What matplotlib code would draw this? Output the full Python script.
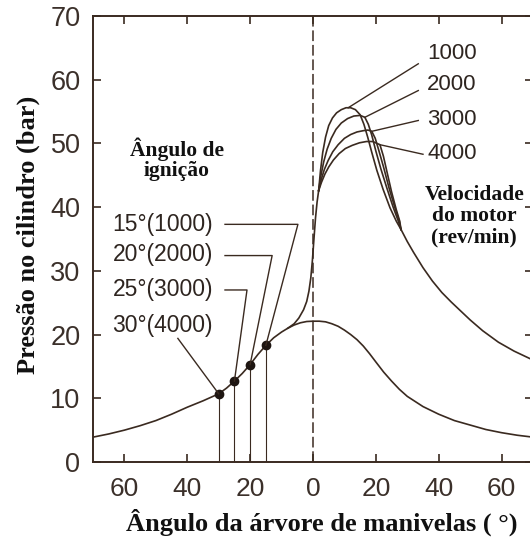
import matplotlib
matplotlib.use("Agg")
import matplotlib.pyplot as plt

# curva sem combustao (arrasto)
ang_mot = [-70, -65, -60, -55, -50, -45, -40, -35, -30, -27.5, -25, -22.5, -20, -17.5, -15,
           -12.5, -10, -8, -6, -4, -2, 0, 2, 4, 6, 8, 10, 12, 14, 16, 18, 20, 22.5, 25,
           27.5, 30, 35, 40, 45, 50, 55, 60, 65, 70]
p_mot = [3.9, 4.4, 5.0, 5.7, 6.5, 7.5, 8.6, 9.6, 10.7, 11.6, 12.7, 13.9, 15.3, 16.9, 18.3,
         19.5, 20.4, 21.0, 21.5, 21.85, 22.05, 22.1, 22.1, 22.0, 21.7, 21.3, 20.7, 20.0, 19.2,
         18.2, 17.0, 15.7, 14.1, 12.7, 11.4, 10.3, 8.7, 7.5, 6.5, 5.8, 5.1, 4.6, 4.2, 3.9]

# subida comum das curvas com combustao
ang_sub = [-8, -6, -4.5, -3, -2, -1.3, -0.7, -0.2, 0.3, 0.8, 1.3, 1.8]
p_sub = [21.0, 21.7, 22.6, 23.9, 25.2, 26.8, 28.9, 31.6, 35.0, 38.3, 40.8, 42.6]

# parte superior de cada rotacao
ang_1000 = [1.8, 2.4, 3.1, 4.0, 5.0, 6.2, 7.5, 9.0, 10.5, 12.0, 13.5, 15.0, 16.2, 17.4,
            18.7, 20.3, 22.3, 24.5, 26.5]
p_1000 = [42.6, 45.8, 48.6, 51.0, 52.8, 54.0, 54.8, 55.3, 55.6, 55.6, 55.3, 54.5, 53.0,
          51.0, 48.6, 45.8, 42.8, 39.9, 37.8]
ang_2000 = [1.8, 2.5, 3.4, 4.5, 5.8, 7.3, 9.0, 11.0, 13.0, 15.0, 16.5, 17.6, 18.7, 20.0,
            21.6, 23.5, 25.5, 27.0]
p_2000 = [42.6, 44.9, 47.1, 49.1, 50.8, 52.2, 53.2, 53.9, 54.3, 54.4, 54.1, 53.0, 51.3,
          48.8, 46.0, 43.0, 40.0, 38.0]
ang_3000 = [1.8, 2.6, 3.6, 4.8, 6.3, 8.0, 10.0, 12.0, 14.0, 16.0, 17.5, 18.7, 19.8, 21.0,
            22.5, 24.2, 26.0, 27.4]
p_3000 = [42.6, 44.3, 45.9, 47.3, 48.7, 49.8, 50.8, 51.4, 51.8, 52.0, 52.1, 51.9, 50.8,
          48.8, 46.2, 43.0, 40.0, 37.9]
ang_4000 = [1.8, 2.7, 3.8, 5.0, 6.5, 8.3, 10.3, 12.5, 14.8, 17.0, 19.0, 21.3, 22.4, 23.6,
            25.0, 26.5, 27.6]
p_4000 = [42.6, 43.9, 45.2, 46.3, 47.4, 48.4, 49.2, 49.7, 50.1, 50.3, 50.3, 49.8, 48.0,
          45.4, 42.4, 39.6, 37.8]

# descida comum (expansao)
ang_exp = [28, 30, 32, 35, 38, 41, 44, 47, 50, 54, 59, 64, 70]
p_exp = [36.5, 34.6, 32.9, 30.5, 28.4, 26.6, 25.1, 23.7, 22.3, 20.6, 18.8, 17.4, 16.0]

# pontos de ignicao
ang_ign = [-30, -25, -20, -15]
p_ign = [10.7, 12.7, 15.3, 18.3]
rotulos_ign = ["30°(4000)", "25°(3000)", "20°(2000)", "15°(1000)"]

rotacoes = ["1000", "2000", "3000", "4000"]
x_ticks = [-60, -40, -20, 0, 20, 40, 60]
x_labels = ["60", "40", "20", "0", "20", "40", "60"]
y_ticks = [0, 10, 20, 30, 40, 50, 60, 70]

cor = "#3a2a20"
cor_txt = "#2e2520"

fig = plt.figure(figsize=(5.30, 5.41), dpi=100)
ax = fig.add_axes([93 / 530, 79 / 541, 440 / 530, 446 / 541])

lw = 1.2
ax.plot(ang_mot, p_mot, color=cor, lw=lw)
ax.plot(ang_sub, p_sub, color=cor, lw=lw)
for a, p in [(ang_1000, p_1000), (ang_2000, p_2000), (ang_3000, p_3000), (ang_4000, p_4000)]:
    ax.plot(a + [ang_exp[0]], p + [p_exp[0]], color=cor, lw=lw)
ax.plot(ang_exp, p_exp, color=cor, lw=lw)

# PMS
ax.plot([0, 0], [0, 70], color=cor, lw=1.1, dashes=(7, 2.5))

# ignicao: pontos e verticais
for a, p in zip(ang_ign, p_ign):
    ax.plot([a, a], [0, p], color=cor, lw=0.8)
ax.plot(ang_ign, p_ign, "o", color="#1e1612", ms=6)

# chamadas dos angulos de ignicao
fs_lab = 16.5
ax.text(-31.8, 37.3, rotulos_ign[3], ha="right", va="center", fontsize=fs_lab,
        family="Liberation Sans", color=cor_txt)
ax.plot([-28, -4.8, ang_ign[3]], [37.3, 37.3, p_ign[3]], color=cor, lw=1.0)
ax.text(-31.8, 32.5, rotulos_ign[2], ha="right", va="center", fontsize=fs_lab,
        family="Liberation Sans", color=cor_txt)
ax.plot([-28, -13, ang_ign[2]], [32.4, 32.4, p_ign[2]], color=cor, lw=1.0)
ax.text(-31.8, 27.0, rotulos_ign[1], ha="right", va="center", fontsize=fs_lab,
        family="Liberation Sans", color=cor_txt)
ax.plot([-28, -21, ang_ign[1]], [27.0, 27.0, p_ign[1]], color=cor, lw=1.0)
ax.text(-31.8, 21.4, rotulos_ign[0], ha="right", va="center", fontsize=fs_lab,
        family="Liberation Sans", color=cor_txt)
ax.plot([-43, ang_ign[0]], [19.4, p_ign[0]], color=cor, lw=1.0)

# chamadas das rotacoes
fs_rot = 16
pontas = [(11.2, 55.6), (16.5, 54.1), (18.7, 51.9), (21.3, 49.8)]
saidas = [(33.5, 62.5), (33.5, 58.3), (33.5, 53.6), (35.0, 48.3)]
ys_rot = [64.1, 59.2, 53.8, 48.4]
for r, yr, (xa, ya), (xb, yb) in zip(rotacoes, ys_rot, pontas, saidas):
    ax.text(36.3, yr, r, ha="left", va="center", fontsize=fs_rot,
            family="Liberation Sans", color=cor_txt)
    ax.plot([xa, xb], [ya, yb], color=cor, lw=1.0)

ax.text(-43.3, 47.5, "Ângulo de\nignição", ha="center", va="center", fontsize=15.5,
        family="Liberation Serif", weight="bold", linespacing=1.05, color="#111111")
ax.text(51.3, 38.6, "Velocidade\ndo motor\n(rev/min)", ha="center", va="center",
        fontsize=15.5, family="Liberation Serif", weight="bold", linespacing=1.1,
        color="#111111")

ax.set_xlim(-70, 70)
ax.set_ylim(0, 70)
ax.set_xticks(x_ticks)
ax.set_xticklabels(x_labels)
ax.set_yticks(y_ticks)
ax.tick_params(direction="in", length=6, width=1.2, color=cor, top=True, right=True,
               labelcolor="#3b302a")
ax.tick_params(axis="x", pad=11, labelsize=19)
ax.tick_params(axis="y", pad=9, labelsize=19.5)
for lbl in ax.get_xticklabels() + ax.get_yticklabels():
    lbl.set_family("Liberation Sans")
for s in ax.spines.values():
    s.set_color(cor)
    s.set_linewidth(1.4)

fig.text(322 / 530, 1 - 522 / 541, "Ângulo da árvore de manivelas ( °)", ha="center",
         va="center", fontsize=19, family="Liberation Serif", weight="bold", color="#111111")
fig.text(28 / 530, 1 - 235 / 541, "Pressão no cilindro (bar)", ha="center", va="center",
         rotation=90, fontsize=19, family="Liberation Serif", weight="bold", color="#111111")

fig.savefig("out.png", dpi=100)
